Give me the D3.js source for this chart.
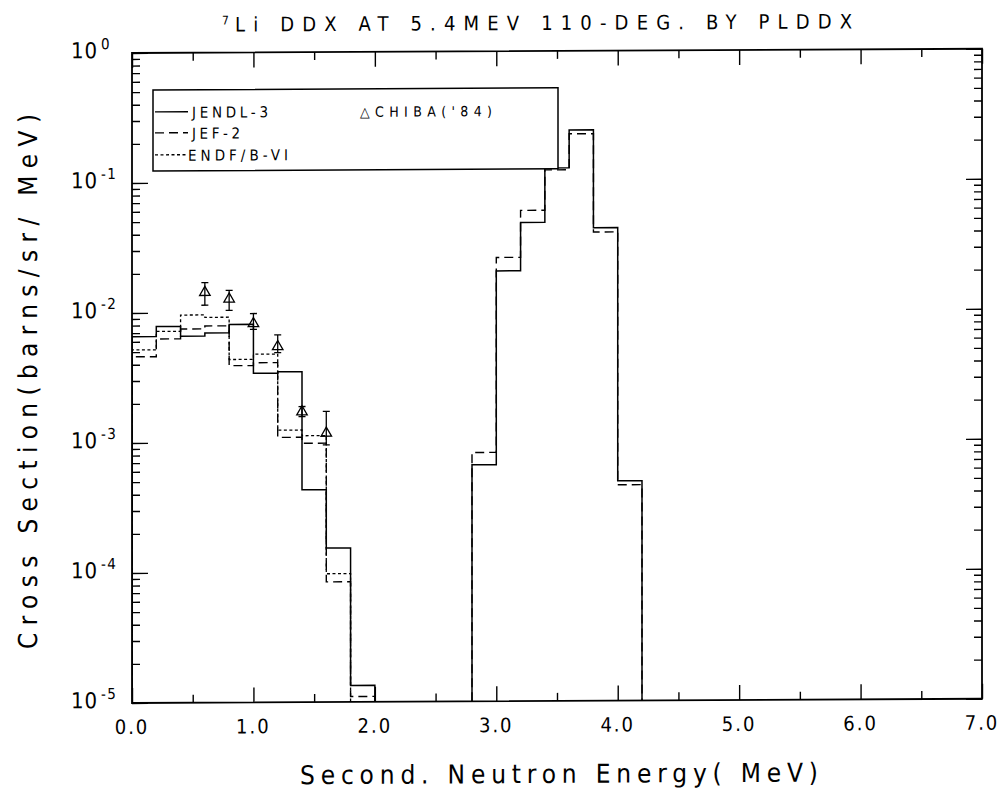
<!DOCTYPE html>
<html>
<head>
<meta charset="utf-8">
<script src="https://cdn.jsdelivr.net/npm/d3@7"></script>
<style>
  html, body { margin: 0; padding: 0; background: #fff; }
  svg { display: block; font-family: "DejaVu Sans Condensed", "DejaVu Sans", sans-serif; }
</style>
</head>
<body>
<svg id="chart" width="1003" height="793"></svg>
<script>
// Lower edge of each 0.2 MeV energy bin (MeV)
const binLow = [0.0, 0.2, 0.4, 0.6, 0.8, 1.0, 1.2, 1.4, 1.6, 1.8,
                2.0, 2.2, 2.4, 2.6, 2.8, 3.0, 3.2, 3.4, 3.6, 3.8, 4.0];
const binWidth = 0.2;

// Evaluated DDX (barns/sr/MeV) per bin; null = below the plotted range
const jendl3 = [6.57e-3, 7.85e-3, 6.6e-3, 6.98e-3, 8.1e-3, 3.4e-3, 3.48e-3, 4.3e-4, 1.53e-4, 1.34e-5,
                null, null, null, null,
                6.6e-4, 2.04e-2, 4.81e-2, 0.126, 0.246, 4.35e-2, 4.9e-4];
const jef2   = [4.6e-3, 6.3e-3, 7.5e-3, 7.9e-3, 3.9e-3, 4.1e-3, 1.09e-3, 9.8e-4, 8.4e-5, 1.1e-5,
                null, null, null, null,
                8.2e-4, 2.59e-2, 5.95e-2, 0.1216, 0.23, 4.03e-2, 4.57e-4];
const endfb6 = [5.2e-3, 7.2e-3, 9.6e-3, 9.2e-3, 4.35e-3, 4.77e-3, 1.24e-3, 1.12e-3, 9.7e-5, null,
                null, null, null, null,
                null, null, null, null, null, null, null];

// CHIBA ('84) measured points with error bars
const expEnergy = [0.6, 0.8, 1.0, 1.2, 1.4, 1.6];
const expValue  = [1.43e-2, 1.27e-2, 8.2e-3, 5.45e-3, 1.71e-3, 1.17e-3];
const expLow    = [1.14e-2, 1.04e-2, 7.4e-3, 4.9e-3, 1.57e-3, 9.5e-4];
const expHigh   = [1.70e-2, 1.48e-2, 9.8e-3, 6.7e-3, 1.88e-3, 1.72e-3];

// Axis ticks
const xMajorTicks = [0, 1, 2, 3, 4, 5, 6, 7];
const xMinorTicks = [0.5, 1.5, 2.5, 3.5, 4.5, 5.5, 6.5];
const yExponents  = [0, -1, -2, -3, -4, -5];

const svg = d3.select("#chart");
const plotLeft = 132, plotRight = 982, plotTop = 53, plotBottom = 703;

const x = d3.scaleLinear().domain([0, 7]).range([plotLeft, plotRight]);
const yMin = 1e-5, yMax = 1;
const y = d3.scaleLog().domain([yMin, yMax]).range([plotBottom, plotTop]);

// slight page skew of the plotted sheet
const skew = 0.005;
const root = svg.append("g").attr("transform", `matrix(1,${-skew},0,1,0,${(skew * plotLeft).toFixed(3)})`);

svg.append("defs").append("clipPath").attr("id", "plotClip")
  .append("rect").attr("x", plotLeft).attr("y", plotTop)
  .attr("width", plotRight - plotLeft).attr("height", plotBottom - plotTop);

// ---- ticks (all pointing inward) ----
const yMinor = [];
for (let e = -5; e < 0; e++) for (let m = 2; m <= 9; m++) yMinor.push(m * Math.pow(10, e));
const yMajor = yExponents.map(e => Math.pow(10, e));

function styleAxis(g) {
  g.select(".domain").remove();
  g.selectAll(".tick line").attr("stroke", "#000").attr("stroke-width", 1.4);
  g.selectAll(".tick text").remove();
}
root.append("g").attr("transform", `translate(${plotLeft},0)`)
  .call(d3.axisLeft(y).tickValues(yMinor).tickSize(-8).tickFormat("")).call(styleAxis);
root.append("g").attr("transform", `translate(${plotLeft},0)`)
  .call(d3.axisLeft(y).tickValues(yMajor).tickSize(-16).tickFormat("")).call(styleAxis);
root.append("g").attr("transform", `translate(${plotRight},0)`)
  .call(d3.axisRight(y).tickValues(yMinor).tickSize(-8).tickFormat("")).call(styleAxis);
root.append("g").attr("transform", `translate(${plotRight},0)`)
  .call(d3.axisRight(y).tickValues(yMajor).tickSize(-16).tickFormat("")).call(styleAxis);

root.append("g").attr("transform", `translate(0,${plotBottom})`)
  .call(d3.axisBottom(x).tickValues(xMinorTicks).tickSize(-8).tickFormat("")).call(styleAxis);
root.append("g").attr("transform", `translate(0,${plotBottom})`)
  .call(d3.axisBottom(x).tickValues(xMajorTicks).tickSize(-15).tickFormat("")).call(styleAxis);
root.append("g").attr("transform", `translate(0,${plotTop})`)
  .call(d3.axisTop(x).tickValues(xMinorTicks).tickSize(-8).tickFormat("")).call(styleAxis);
root.append("g").attr("transform", `translate(0,${plotTop})`)
  .call(d3.axisTop(x).tickValues(xMajorTicks).tickSize(-15).tickFormat("")).call(styleAxis);

// ---- histogram outlines ----
function segments(vals) {
  const segs = [];
  let cur = null;
  vals.forEach((v, i) => {
    if (v == null) { cur = null; return; }
    if (!cur) { cur = []; segs.push(cur); }
    cur.push({ lo: binLow[i], v: v });
  });
  return segs;
}
function stepPoints(seg) {
  const pts = [[seg[0].lo, yMin]];
  seg.forEach(b => pts.push([b.lo, b.v]));
  const last = seg[seg.length - 1];
  pts.push([last.lo + binWidth, last.v]);
  pts.push([last.lo + binWidth, yMin]);
  return pts;
}
const stepLine = d3.line()
  .x(d => x(d[0]))
  .y(d => y(Math.max(d[1], yMin * 0.5)))
  .curve(d3.curveStepAfter);

const seriesList = [
  { name: "ENDF/B-VI", values: endfb6, dash: "3,2.5", width: 1.3 },
  { name: "JEF-2",     values: jef2,   dash: "9,5",   width: 1.4 },
  { name: "JENDL-3",   values: jendl3, dash: null,    width: 1.5 }
];
const plot = root.append("g").attr("clip-path", "url(#plotClip)");
seriesList.forEach(s => {
  plot.append("g").selectAll("path")
    .data(segments(s.values))
    .join("path")
    .attr("d", seg => stepLine(stepPoints(seg)))
    .attr("fill", "none")
    .attr("stroke", "#000")
    .attr("stroke-width", s.width)
    .attr("stroke-dasharray", s.dash);
});

// ---- CHIBA points ----
const expData = expEnergy.map((e, i) => ({ e, v: expValue[i], lo: expLow[i], hi: expHigh[i] }));
const pts = root.append("g").attr("stroke", "#000").attr("fill", "none").attr("stroke-width", 1.3);
pts.selectAll("line.bar").data(expData).join("line").attr("class", "bar")
  .attr("x1", d => x(d.e)).attr("x2", d => x(d.e))
  .attr("y1", d => y(d.lo)).attr("y2", d => y(d.hi));
pts.selectAll("line.capHi").data(expData).join("line").attr("class", "capHi")
  .attr("x1", d => x(d.e) - 3.5).attr("x2", d => x(d.e) + 3.5)
  .attr("y1", d => y(d.hi)).attr("y2", d => y(d.hi));
pts.selectAll("line.capLo").data(expData).join("line").attr("class", "capLo")
  .attr("x1", d => x(d.e) - 3.5).attr("x2", d => x(d.e) + 3.5)
  .attr("y1", d => y(d.lo)).attr("y2", d => y(d.lo));
pts.selectAll("path.tri").data(expData).join("path").attr("class", "tri")
  .attr("transform", d => `translate(${x(d.e)},${y(d.v)})`)
  .attr("d", d3.symbol(d3.symbolTriangle, 48));

// ---- frame ----
root.append("rect")
  .attr("x", plotLeft).attr("y", plotTop)
  .attr("width", plotRight - plotLeft).attr("height", plotBottom - plotTop)
  .attr("fill", "none").attr("stroke", "#000").attr("stroke-width", 1.8);

// ---- tick labels ----
const fmtX = d3.format(".1f");
root.append("g").selectAll("text").data(xMajorTicks).join("text")
  .attr("x", d => x(d)).attr("y", plotBottom + 31)
  .attr("text-anchor", "middle")
  .attr("font-size", 20)
  .attr("letter-spacing", 2)
  .text(d => fmtX(d));

const yl = root.append("g").selectAll("g").data(yExponents).join("g")
  .attr("transform", d => `translate(0,${y(Math.pow(10, d))})`);
yl.append("text").attr("x", 71).attr("y", 5)
  .attr("font-size", 22).attr("letter-spacing", 1).text("10");
yl.append("text").attr("x", 101).attr("y", -4)
  .attr("font-size", 15).attr("letter-spacing", 1.5).text(d => d === 0 ? "0" : "-" + Math.abs(d));

// ---- titles ----
root.append("text").attr("x", 222).attr("y", 25).attr("font-size", 12).text("7");
root.append("text").attr("x", 235).attr("y", 32).attr("font-size", 20)
  .attr("textLength", 617).attr("lengthAdjust", "spacing")
  .text("Li DDX AT 5.4MEV  110-DEG. BY PLDDX");

root.append("text")
  .attr("x", 559).attr("y", 785)
  .attr("text-anchor", "middle").attr("font-size", 26)
  .attr("textLength", 518).attr("lengthAdjust", "spacing")
  .text("Second. Neutron Energy( MeV)");

root.append("text")
  .attr("transform", "translate(37,381) rotate(-90)")
  .attr("text-anchor", "middle").attr("font-size", 26)
  .attr("textLength", 535).attr("lengthAdjust", "spacing")
  .text("Cross Section(barns/sr/ MeV)");

// ---- legend ----
const leg = root.append("g");
leg.append("rect").attr("x", 153).attr("y", 90).attr("width", 405).attr("height", 81)
  .attr("fill", "#fff").attr("stroke", "#000").attr("stroke-width", 1.5);
const legRows = [
  { label: "JENDL-3",   dash: null,    y: 112, tx: 192, len: 76 },
  { label: "JEF-2",     dash: "9,5",   y: 133, tx: 192, len: 48 },
  { label: "ENDF/B-VI", dash: "3,2.5", y: 155, tx: 188, len: 100 }
];
legRows.forEach(r => {
  leg.append("line").attr("x1", 155).attr("x2", 188).attr("y1", r.y).attr("y2", r.y)
    .attr("stroke", "#000").attr("stroke-width", 1.4).attr("stroke-dasharray", r.dash);
  leg.append("text").attr("x", r.tx).attr("y", r.y + 6).attr("font-size", 15)
    .attr("textLength", r.len).attr("lengthAdjust", "spacing").text(r.label);
});
leg.append("text").attr("x", 360).attr("y", 118).attr("font-size", 14)
  .attr("textLength", 132).attr("lengthAdjust", "spacing").text("△CHIBA('84)");
</script>
</body>
</html>
